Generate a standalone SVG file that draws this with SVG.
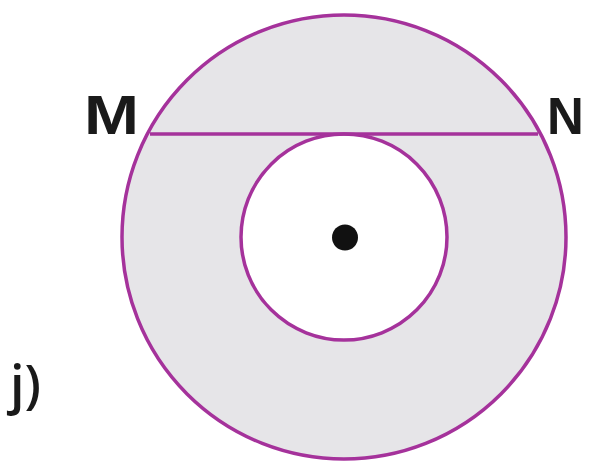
<svg xmlns="http://www.w3.org/2000/svg" width="590" height="467" viewBox="0 0 590 467">
<style>
.c{stroke:#a5329b;stroke-width:3.5}
.t{font-family:"Liberation Sans",Arial,sans-serif;font-weight:bold;fill:#1a1a1a}
</style>
<rect width="590" height="467" fill="#fff"/>
<g id="outer"><circle class="c" cx="344" cy="237" r="222" fill="#e6e5e8"/></g>
<g id="inner"><circle class="c" cx="344" cy="237" r="103" fill="#fff"/></g>
<g id="connectors"><line class="c" x1="150" y1="134" x2="538" y2="134"/></g>
<g id="center"><circle cx="345" cy="237.5" r="13" fill="#111"/></g>
<g id="M"><text class="t" x="84" y="134" font-size="56" textLength="55" lengthAdjust="spacingAndGlyphs">M</text></g>
<g id="N"><text class="t" x="547" y="134" font-size="51">N</text></g>
<g id="label"><text x="10" y="403" font-size="52" font-family="'Open Sans',sans-serif" font-weight="600" fill="#1a1a1a">j)</text></g>
</svg>
